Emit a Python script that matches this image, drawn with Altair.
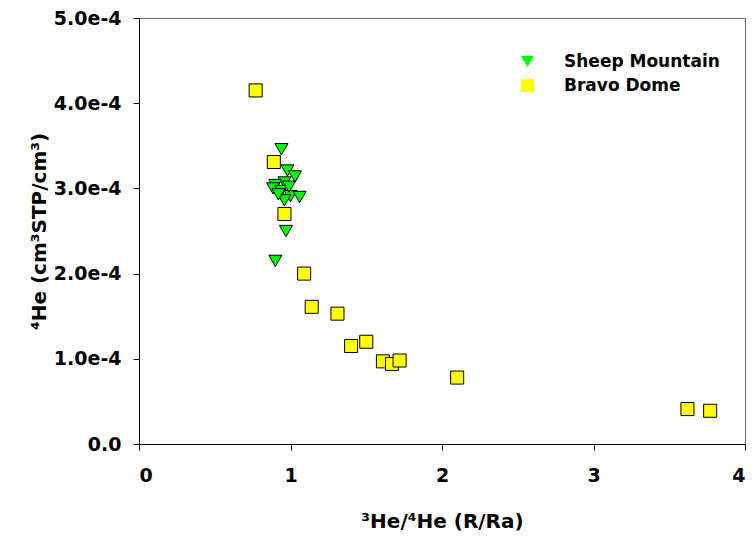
import altair as alt
import pandas as pd

# Bravo Dome samples: 3He/4He (R/Ra) and 4He (cm3 STP/cm3)
bravo_ratio = [0.77, 0.89, 0.96, 1.09, 1.14, 1.31, 1.40, 1.50, 1.61, 1.67, 1.72, 2.10, 3.62, 3.77]
bravo_he4 = [4.15e-4, 3.31e-4, 2.70e-4, 2.00e-4, 1.61e-4, 1.53e-4, 1.15e-4, 1.20e-4,
             0.97e-4, 0.94e-4, 0.98e-4, 0.78e-4, 0.41e-4, 0.39e-4]

# Sheep Mountain samples
sheep_ratio = [0.94, 0.98, 1.03, 0.96, 0.90, 0.885, 0.94, 1.00, 1.06, 0.96, 0.92, 0.99, 0.97, 0.90]
sheep_he4 = [3.46e-4, 3.21e-4, 3.14e-4, 3.07e-4, 3.04e-4, 3.00e-4, 2.97e-4, 2.91e-4,
             2.90e-4, 2.86e-4, 2.93e-4, 3.02e-4, 2.50e-4, 2.15e-4]

fields = ["Sheep Mountain", "Bravo Dome"]
shapes = ["triangle-down", "square"]
fills = ["#00ff00", "#ffff00"]

rows = [{"ratio": r, "he4": h, "field": "Bravo Dome"} for r, h in zip(bravo_ratio, bravo_he4)]
rows += [{"ratio": r, "he4": h, "field": "Sheep Mountain"} for r, h in zip(sheep_ratio, sheep_he4)]
df = pd.DataFrame(rows)

font = "DejaVu Sans"

legend = alt.Legend(
    title=None,
    orient="none",
    legendX=380,
    legendY=35,
    labelOffset=28,
    rowPadding=6,
    symbolSize=170,
    symbolStrokeColor="black",
    symbolStrokeWidth=1,
)

chart = (
    alt.Chart(df)
    .mark_point(filled=True, stroke="black", strokeWidth=1, opacity=1, size=170)
    .encode(
        x=alt.X(
            "ratio:Q",
            scale=alt.Scale(domain=[0, 4], nice=False, zero=False),
            axis=alt.Axis(
                title="³He/⁴He (R/Ra)",
                values=[0, 1, 2, 3, 4],
                format="d",
                grid=False,
                tickSize=6,
                labelPadding=16,
                titlePadding=26,
            ),
        ),
        y=alt.Y(
            "he4:Q",
            scale=alt.Scale(domain=[0, 5e-4], nice=False),
            axis=alt.Axis(
                title="⁴He (cm³STP/cm³)",
                values=[0, 1e-4, 2e-4, 3e-4, 4e-4, 5e-4],
                labelExpr="datum.value == 0 ? '0.0' : format(datum.value, '.1e')",
                grid=False,
                tickSize=6,
                labelPadding=12,
                titlePadding=4,
            ),
        ),
        shape=alt.Shape("field:N", scale=alt.Scale(domain=fields, range=shapes), legend=legend),
        fill=alt.Fill("field:N", scale=alt.Scale(domain=fields, range=fills), legend=legend),
    )
    .properties(
        width=606,
        height=426,
        autosize=alt.AutoSizeParams(type="none"),
        padding={"left": 139, "top": 18, "right": 7, "bottom": 100},
    )
    .configure_view(stroke="#666666", strokeWidth=1)
    .configure_axis(
        domainColor="black",
        tickColor="black",
        labelFont=font,
        titleFont=font,
        labelFontSize=19,
        labelFontWeight="bold",
        titleFontSize=20,
        titleFontWeight="bold",
        labelColor="black",
        titleColor="black",
    )
    .configure_legend(
        labelFont=font,
        labelFontSize=17,
        labelFontWeight="bold",
        labelColor="black",
    )
)

chart.save("out.html", embed_options={"renderer": "svg", "actions": False})
